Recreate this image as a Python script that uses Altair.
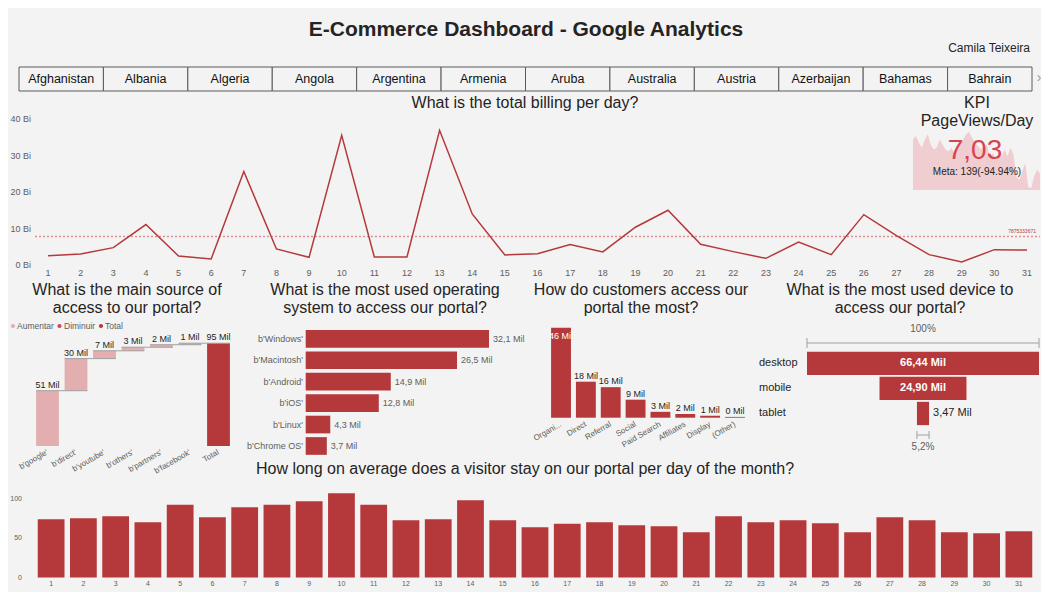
import altair as alt
import pandas as pd

# ---------------- data ----------------
dashboard_title = "E-Commerce Dashboard - Google Analytics"
author = "Camila Teixeira"
countries = ["Afghanistan", "Albania", "Algeria", "Angola", "Argentina", "Armenia",
             "Aruba", "Australia", "Austria", "Azerbaijan", "Bahamas", "Bahrain"]

days = list(range(1, 32))
billing_bi = [2.56, 3.0, 4.76, 11.08, 2.47, 1.65, 25.6, 4.39, 2.1, 35.5, 2.2, 2.2, 36.9, 14.0,
              2.75, 3.1, 5.58, 3.57, 10.34, 15.0, 5.67, 3.66, 1.83, 6.3, 2.84, 13.8, 8.05,
              2.84, 0.82, 4.2, 4.1]
billing_ticks = [0, 10, 20, 30, 40]
billing_avg_text = "7875333671"

kpi_pageviews = [150, 160, 140, 125, 150, 165, 135, 120, 125, 150, 135, 120, 115, 125, 110,
                 130, 140, 150, 165, 172, 155, 140, 130, 120, 130, 135, 100, 110, 90, 95, 100,
                 120, 100, 125, 105, 40, 30, 55, 80, 10, 5, 40, 60, 50]
kpi_value = "7,03"
kpi_meta = "Meta: 139(-94.94%)"

sources = ["b'google'", "b'direct'", "b'youtube'", "b'others'", "b'partners'", "b'facebook'"]
source_mil = [51.0, 29.6, 7.2, 3.3, 2.3, 1.4]
legend_items = ["Aumentar", "Diminuir", "Total"]

os_names = ["b'Windows'", "b'Macintosh'", "b'Android'", "b'iOS'", "b'Linux'", "b'Chrome OS'"]
os_mil = [32.1, 26.5, 14.9, 12.8, 4.3, 3.7]

channels = ["Organi...", "Direct", "Referral", "Social", "Paid Search", "Affiliates", "Display", "(Other)"]
channel_mil = [46.0, 18.4, 15.6, 9.2, 3.0, 1.9, 1.0, 0.4]

devices = ["desktop", "mobile", "tablet"]
device_mil = [66.44, 24.90, 3.47]

avg_time = [73.8, 75.1, 77.6, 70.0, 92.0, 76.4, 89.0, 92.0, 96.6, 106.8, 92.0, 72.6, 73.8, 97.9,
            72.6, 63.7, 67.9, 70.0, 66.2, 65.0, 57.4, 77.6, 70.0, 72.6, 68.8, 57.4, 76.4, 72.6,
            57.4, 56.1, 58.6]
time_ticks = [0, 50, 100]

# ---------------- style ----------------
RED = "#b5383b"
PINK = "#e3aeb0"
MIDRED = "#d64550"
TXT = "#252423"
GRAY = "#605e5c"
LINEGRAY = "#a0a0a0"
BG = "#f3f3f3"
FONT = "Liberation Sans"


def one(text):
    return pd.DataFrame({"t": [text]})


def label(text, x, y, size=16, color=TXT, align="center", weight="normal"):
    return alt.Chart(one(text)).mark_text(
        align=align, baseline="middle", fontSize=size, color=color, fontWeight=weight
    ).encode(x=alt.value(x), y=alt.value(y), text="t:N")


def band(domain, r, pi, po):
    return alt.Scale(type="band", domain=domain, range=r, paddingInner=pi, paddingOuter=po)


layers = []

# background
layers.append(alt.Chart(one("bg")).mark_rect(color=BG).encode(
    x=alt.value(8), x2=alt.value(1041), y=alt.value(8), y2=alt.value(592)))

# ---------------- header ----------------
layers.append(label(dashboard_title, 526, 30, size=21, weight="bold"))
layers.append(label(author, 1030, 48, size=12, align="right"))

cdf = pd.DataFrame({"country": countries})
cscale = band(countries, [19, 1032], 0, 0)
layers.append(alt.Chart(cdf).mark_rect(fill=BG, stroke="#5a5a5a", strokeWidth=1).encode(
    x=alt.X("country:N", scale=cscale, axis=None), y=alt.value(67), y2=alt.value(91)))
layers.append(alt.Chart(cdf).mark_text(fontSize=12.5, color="#111", baseline="middle").encode(
    x=alt.X("country:N", scale=cscale, axis=None), y=alt.value(79), text="country:N"))
layers.append(label("\u203a", 1039, 78, size=14, color="#999"))

# ---------------- billing line ----------------
bdf = pd.DataFrame({"day": days, "bi": billing_bi})
bxs = alt.Scale(domain=[1, 31], range=[48, 1027])
bys = alt.Scale(domain=[0, 40], range=[265, 119])
layers.append(label("What is the total billing per day?", 525, 103))
layers.append(alt.Chart(bdf).mark_rule(color="#dc8e90", strokeDash=[2, 2], strokeWidth=1.5).encode(
    y=alt.Y("mean(bi):Q", scale=bys, axis=None), x=alt.value(35), x2=alt.value(1040)))
layers.append(alt.Chart(bdf).mark_text(fontSize=5, color=RED, align="right", baseline="bottom", dy=-2).encode(
    y=alt.Y("mean(bi):Q", scale=bys, axis=None), x=alt.value(1036), text=alt.value(billing_avg_text)))
layers.append(alt.Chart(bdf).mark_line(color=RED, strokeWidth=1.5).encode(
    x=alt.X("day:Q", scale=bxs, axis=None), y=alt.Y("bi:Q", scale=bys, axis=None)))
btick = pd.DataFrame({"v": billing_ticks, "lab": [f"{v} Bi" for v in billing_ticks]})
layers.append(alt.Chart(btick).mark_text(fontSize=9, color=GRAY, align="right", baseline="middle").encode(
    y=alt.Y("v:Q", scale=bys, axis=None), x=alt.value(31), text="lab:N"))
layers.append(alt.Chart(bdf).mark_text(fontSize=9, color=GRAY, baseline="middle").encode(
    x=alt.X("day:Q", scale=bxs, axis=None), y=alt.value(273), text="day:Q"))

# ---------------- KPI ----------------
kdf = pd.DataFrame({"i": list(range(len(kpi_pageviews))), "v": kpi_pageviews})
layers.append(alt.Chart(kdf).mark_area(color="#f0cdd0", interpolate="linear").encode(
    x=alt.X("i:Q", scale=alt.Scale(domain=[0, len(kpi_pageviews) - 1], range=[913, 1040]), axis=None),
    y=alt.Y("v:Q", scale=alt.Scale(domain=[0, 175], range=[190, 131]), axis=None)))
layers.append(label("KPI", 977, 103))
layers.append(label("PageViews/Day", 977, 121))
layers.append(label(kpi_value, 975, 151, size=28, color="#d9434f"))
layers.append(label(kpi_meta, 977, 172, size=10))

# ---------------- waterfall ----------------
rows = []
cum = 0.0
for i, (s, v) in enumerate(zip(sources, source_mil)):
    rows.append(dict(idx=i, cat=s, start=cum, end=cum + v, kind="Aumentar", lab=f"{round(v)} Mil"))
    cum += v
rows.append(dict(idx=len(sources), cat="Total", start=0.0, end=cum, kind="Total", lab=f"{round(cum)} Mil"))
wf = pd.DataFrame(rows)
wf["x0"] = wf["idx"] - 0.4
wf["x1"] = wf["idx"] + 0.4
conn = wf.iloc[:-1].copy()
conn["x0"] = conn["idx"] - 0.4
conn["x1"] = conn["idx"] + 1.4

wxs = alt.Scale(domain=[-0.5, len(wf) - 0.5], range=[33.25, 232.75])
wys = alt.Scale(domain=[0, 95], range=[446, 343])
layers.append(label("What is the main source of", 127, 290))
layers.append(label("access to our portal?", 127, 308))
leg_x = [(13, 17), (59.5, 64), (101, 105)]
leg_c = [PINK, MIDRED, RED]
for (dx_, tx_), c, name in zip(leg_x, leg_c, legend_items):
    layers.append(alt.Chart(one(name)).mark_circle(size=18, opacity=1).encode(
        x=alt.value(dx_), y=alt.value(326), color=alt.value(c)))
    layers.append(label(name, tx_, 326, size=8.5, color=GRAY, align="left"))
layers.append(alt.Chart(wf).mark_bar().encode(
    x=alt.X("x0:Q", scale=wxs, axis=None), x2="x1:Q",
    y=alt.Y("start:Q", scale=wys, axis=None), y2="end:Q",
    color=alt.Color("kind:N", scale=alt.Scale(domain=legend_items, range=leg_c), legend=None)))
layers.append(alt.Chart(conn).mark_rule(color=LINEGRAY, strokeWidth=1).encode(
    x=alt.X("x0:Q", scale=wxs, axis=None), x2="x1:Q",
    y=alt.Y("end:Q", scale=wys, axis=None)))
layers.append(alt.Chart(wf).mark_text(fontSize=9, color=TXT, baseline="alphabetic", dy=-3).encode(
    x=alt.X("idx:Q", scale=wxs, axis=None), y=alt.Y("end:Q", scale=wys, axis=None), text="lab:N"))
layers.append(alt.Chart(wf).mark_text(fontSize=8, color=GRAY, align="right", baseline="middle", angle=330).encode(
    x=alt.X("idx:Q", scale=wxs, axis=None), y=alt.value(452), text="cat:N"))

# ---------------- OS bars ----------------
odf = pd.DataFrame({"os": os_names, "mil": os_mil})
odf["lab"] = [f"{v:.1f} Mil".replace(".", ",") for v in os_mil]
oys = band(os_names, [328.1, 456.7], 0.175, 0.0875)
oxs = alt.Scale(domain=[0, 35], range=[305.7, 305.7 + 35 * 5.71])
layers.append(label("What is the most used operating", 385, 290))
layers.append(label("system to access our portal?", 385, 308))
layers.append(alt.Chart(odf).mark_bar(color=RED).encode(
    x=alt.X("mil:Q", scale=oxs, axis=None), y=alt.Y("os:N", scale=oys, axis=None)))
layers.append(alt.Chart(odf).mark_text(fontSize=9, color=GRAY, align="left", baseline="middle", dx=4).encode(
    x=alt.X("mil:Q", scale=oxs, axis=None), y=alt.Y("os:N", scale=oys, axis=None), text="lab:N"))
layers.append(alt.Chart(odf).mark_text(fontSize=9, color=GRAY, align="right", baseline="middle").encode(
    x=alt.value(303), y=alt.Y("os:N", scale=oys, axis=None), text="os:N"))

# ---------------- channels ----------------
chdf = pd.DataFrame({"ch": channels, "mil": channel_mil})
chdf["lab"] = [f"{round(v)} Mil" for v in channel_mil]
chdf["inside"] = [v >= max(channel_mil) for v in channel_mil]
chx = band(channels, [548.6, 747.4], 0.2, 0.1)
chy = alt.Scale(domain=[0, 46], range=[417.7, 327.7])
layers.append(label("How do customers access our", 641, 290))
layers.append(label("portal the most?", 641, 308))
layers.append(alt.Chart(chdf).mark_bar(color=RED).encode(
    x=alt.X("ch:N", scale=chx, axis=None), y=alt.Y("mil:Q", scale=chy, axis=None)))
layers.append(alt.Chart(chdf).transform_filter("!datum.inside").mark_text(
    fontSize=9, color=TXT, baseline="alphabetic", dy=-3).encode(
    x=alt.X("ch:N", scale=chx, axis=None), y=alt.Y("mil:Q", scale=chy, axis=None), text="lab:N"))
layers.append(alt.Chart(chdf).transform_filter("datum.inside").mark_text(
    fontSize=9, color="white", baseline="middle", dy=8).encode(
    x=alt.X("ch:N", scale=chx, axis=None), y=alt.Y("mil:Q", scale=chy, axis=None), text="lab:N"))
layers.append(alt.Chart(chdf).mark_text(fontSize=8, color=GRAY, align="right", baseline="middle", angle=330).encode(
    x=alt.X("ch:N", scale=chx, axis=None), y=alt.value(424), text="ch:N"))

# ---------------- devices funnel ----------------
ddf = pd.DataFrame({"dev": devices, "mil": device_mil})
ddf["lo"] = -ddf["mil"] / 2
ddf["hi"] = ddf["mil"] / 2
ddf["c"] = 0.0
ddf["lab"] = [f"{v:.2f} Mil".replace(".", ",") for v in device_mil]
ddf["inside"] = [v > 10 for v in device_mil]
half = max(device_mil) / 2
dxs = alt.Scale(domain=[-half, half], range=[807, 1039])
dys = band(devices, [350.9, 426], 0.07, 0.035)
layers.append(label("What is the most used device to", 900, 290))
layers.append(label("access our portal?", 900, 308))
layers.append(alt.Chart(ddf).mark_bar(color=RED).encode(
    x=alt.X("lo:Q", scale=dxs, axis=None), x2="hi:Q", y=alt.Y("dev:N", scale=dys, axis=None)))
layers.append(alt.Chart(ddf).mark_text(fontSize=11, color=TXT, align="left", baseline="middle").encode(
    x=alt.value(759), y=alt.Y("dev:N", scale=dys, axis=None), text="dev:N"))
layers.append(alt.Chart(ddf).transform_filter("datum.inside").mark_text(
    fontSize=11, color="white", baseline="middle", fontWeight="bold").encode(
    x=alt.X("c:Q", scale=dxs, axis=None), y=alt.Y("dev:N", scale=dys, axis=None), text="lab:N"))
layers.append(alt.Chart(ddf).transform_filter("!datum.inside").mark_text(
    fontSize=11, color=TXT, baseline="middle", align="left", dx=4).encode(
    x=alt.X("hi:Q", scale=dxs, axis=None), y=alt.Y("dev:N", scale=dys, axis=None), text="lab:N"))

top_dev = ddf.iloc[[0]].copy()
top_dev["pct"] = "100%"
low_dev = ddf.iloc[[-1]].copy()
low_dev["pct"] = f"{device_mil[-1] / device_mil[0] * 100:.1f}%".replace(".", ",")
for dd, ly, ty0, ty1, py in [(top_dev, 343, 338, 348, 329), (low_dev, 435, 431, 439, 447)]:
    layers.append(alt.Chart(dd).mark_rule(color=LINEGRAY, strokeWidth=1).encode(
        x=alt.X("lo:Q", scale=dxs, axis=None), x2="hi:Q", y=alt.value(ly)))
    for fld in ["lo", "hi"]:
        layers.append(alt.Chart(dd).mark_rule(color=LINEGRAY, strokeWidth=1).encode(
            x=alt.X(f"{fld}:Q", scale=dxs, axis=None), y=alt.value(ty0), y2=alt.value(ty1)))
    layers.append(alt.Chart(dd).mark_text(fontSize=10, color=GRAY, baseline="middle").encode(
        x=alt.X("c:Q", scale=dxs, axis=None), y=alt.value(py), text="pct:N"))

# ---------------- avg time bars ----------------
tdf = pd.DataFrame({"day": days, "t": avg_time})
txs = band(days, [35, 1035], 0.17, 0.085)
tys = alt.Scale(domain=[0, 110], range=[577.5, 490.6])
layers.append(label("How long on average does a visitor stay on our portal per day of the month?", 525, 469))
layers.append(alt.Chart(tdf).mark_bar(color=RED).encode(
    x=alt.X("day:O", scale=txs, axis=None), y=alt.Y("t:Q", scale=tys, axis=None)))
layers.append(alt.Chart(tdf).mark_text(fontSize=7, color=GRAY, baseline="middle").encode(
    x=alt.X("day:O", scale=txs, axis=None), y=alt.value(584), text="day:O"))
ttick = pd.DataFrame({"v": time_ticks})
layers.append(alt.Chart(ttick).mark_text(fontSize=7, color=GRAY, align="right", baseline="middle").encode(
    y=alt.Y("v:Q", scale=tys, axis=None), x=alt.value(22), text="v:Q"))

chart = alt.layer(*layers).resolve_scale(
    x="independent", y="independent", color="independent"
).properties(
    width=1048, height=597, padding=0, autosize=alt.AutoSizeParams(type="none"), background="white"
).configure(font=FONT).configure_view(stroke=None)

chart.save("out.html", embed_options={"renderer": "svg", "actions": False})
